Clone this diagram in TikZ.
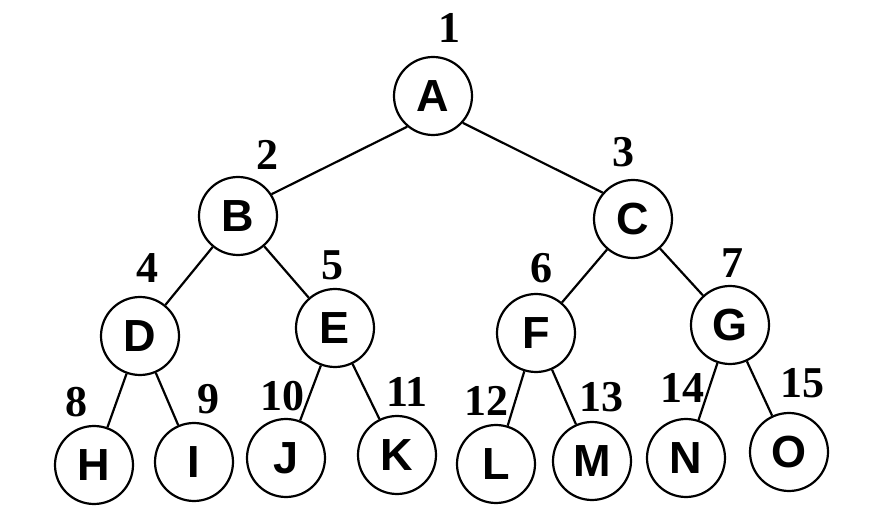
\documentclass[tikz,border=0pt]{standalone}
\usepackage{fontspec}
\setmainfont{Liberation Serif}
\newfontfamily\letterfont{Liberation Sans}
\usetikzlibrary{positioning}

\begin{document}
\begin{tikzpicture}[x=1pt,y=-1pt,line width=2.2pt,
                    vertex/.style={circle,draw,inner sep=0pt,minimum size=78pt,
                                   font=\letterfont\bfseries\fontsize{45}{45}\selectfont},
                    num/.style={inner sep=0pt,font=\bfseries\fontsize{44}{44}\selectfont}]

\useasboundingbox (0,0) rectangle (876,529);

\node[vertex] (A) at(433,96) {A};
\node[vertex] (B) at(238,216) {B};
\node[vertex] (C) at(633,219) {C};
\node[vertex] (D) at(140,336) {D};
\node[vertex] (E) at(335,328) {E};
\node[vertex] (F) at(536,333) {F};
\node[vertex] (G) at(730,325) {G};
\node[vertex] (H) at(94,465) {H};
\node[vertex] (I) at(194,462) {I};
\node[vertex] (J) at(286,458) {J};
\node[vertex] (K) at(397,455) {K};
\node[vertex] (L) at(496,464) {L};
\node[vertex] (M) at(592,461) {M};
\node[vertex] (N) at(686,458) {N};
\node[vertex] (O) at(789,452) {O};


\node[num] (n1) at(449,28) {1};
\node[num] (n2) at(267,155) {2};
\node[num] (n3) at(623,152) {3};
\node[num] (n4) at(147,268) {4};
\node[num] (n5) at(332,265) {5};
\node[num] (n6) at(541,268) {6};
\node[num] (n7) at(732,263) {7};
\node[num] (n8) at(76,402) {8};
\node[num] (n9) at(208,399) {9};
\node[num] (n10) at(282,396) {10};
\node[num] (n11) at(407,392) {11};
\node[num] (n12) at(486,401) {12};
\node[num] (n13) at(601,397) {13};
\node[num] (n14) at(682,388) {14};
\node[num] (n15) at(802,383) {15};


\draw
(A.230) -- (B.33)
(A.318) -- (C.139)

(B) -- (D)
(B) -- (E)
(C) -- (F)
(C) -- (G)

(D) -- (H)
(D) -- (I)
(E) -- (J)
(E) -- (K)
(F) -- (L)
(F) -- (M)
(G) -- (N)
(G) -- (O)
;\end{tikzpicture}
\end{document}
